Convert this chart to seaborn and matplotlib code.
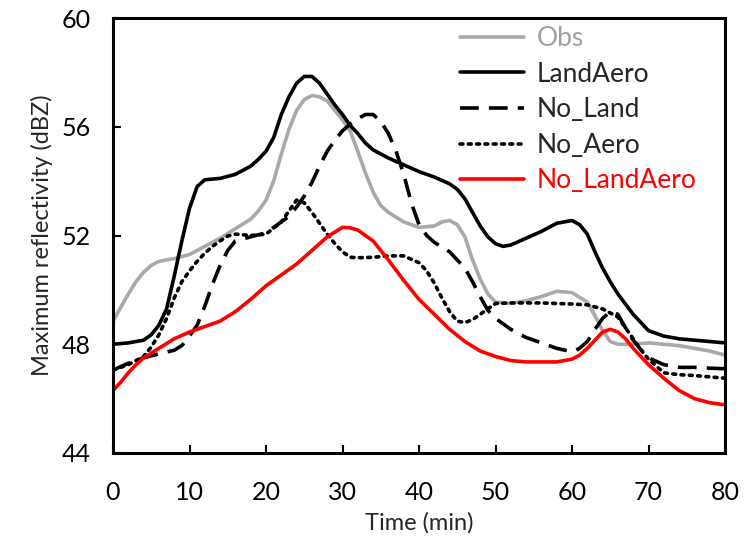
import numpy as np
import pandas as pd
import matplotlib
matplotlib.use("Agg")
import matplotlib.pyplot as plt
import seaborn as sns

# ---- data ----
t_obs = [0, 1, 2, 3, 4, 5, 6, 8, 10, 12, 14, 16, 18, 19, 20, 21, 22, 23, 24, 25, 26, 27, 28, 29,
         30, 31, 32, 33, 34, 35, 36, 38, 40, 42, 43, 44, 45, 46, 47, 48, 49, 50, 52, 54, 56, 58,
         60, 62, 63, 64, 65, 66, 68, 70, 72, 74, 76, 78, 80]
obs = [48.85, 49.35, 49.85, 50.3, 50.65, 50.9, 51.05, 51.15, 51.3, 51.6, 51.9, 52.25, 52.6, 52.9,
       53.3, 54.0, 55.0, 55.9, 56.6, 57.0, 57.15, 57.1, 56.95, 56.6, 56.25, 55.85, 55.1, 54.3,
       53.6, 53.1, 52.85, 52.5, 52.3, 52.35, 52.5, 52.55, 52.4, 51.95, 51.1, 50.4, 49.85, 49.55,
       49.5, 49.6, 49.75, 49.95, 49.9, 49.55, 49.05, 48.5, 48.1, 48.0, 48.0, 48.05, 48.0, 47.95,
       47.85, 47.75, 47.6]

t_land_aero = [0, 2, 4, 5, 6, 7, 8, 9, 10, 11, 12, 14, 16, 18, 19, 20, 21, 22, 23, 24, 25, 26, 27,
               28, 29, 30, 31, 32, 33, 34, 36, 38, 40, 42, 44, 45, 46, 47, 48, 49, 50, 51, 52, 54,
               56, 58, 60, 61, 62, 63, 64, 65, 66, 68, 70, 72, 74, 76, 78, 80]
land_aero = [48.0, 48.05, 48.15, 48.35, 48.7, 49.3, 50.5, 51.8, 53.0, 53.8, 54.05, 54.1, 54.25,
             54.55, 54.8, 55.1, 55.6, 56.45, 57.1, 57.6, 57.85, 57.85, 57.6, 57.2, 56.8, 56.45,
             56.05, 55.75, 55.4, 55.15, 54.85, 54.6, 54.35, 54.15, 53.9, 53.7, 53.35, 52.85, 52.35,
             51.95, 51.7, 51.6, 51.65, 51.9, 52.15, 52.45, 52.55, 52.4, 52.05, 51.4, 50.8, 50.3,
             49.85, 49.1, 48.5, 48.3, 48.2, 48.15, 48.1, 48.05]

t_no_land = [0, 2, 4, 6, 8, 9, 10, 11, 12, 13, 14, 15, 16, 18, 20, 22, 23, 24, 25, 26, 27, 28, 29,
             30, 31, 32, 33, 34, 35, 36, 37, 38, 39, 40, 41, 42, 44, 45, 46, 47, 48, 49, 50, 52,
             54, 56, 58, 60, 61, 62, 63, 64, 65, 66, 67, 68, 69, 70, 72, 74, 76, 78, 80]
no_land = [47.05, 47.3, 47.5, 47.65, 47.78, 47.95, 48.3, 48.7, 49.4, 50.2, 50.9, 51.45, 51.8,
           51.95, 52.1, 52.5, 52.7, 53.05, 53.45, 53.95, 54.55, 55.1, 55.5, 55.85, 56.1, 56.3,
           56.45, 56.45, 56.2, 55.75, 55.1, 54.25, 53.2, 52.4, 52.0, 51.75, 51.4, 51.1, 50.8,
           50.3, 49.75, 49.25, 48.95, 48.55, 48.25, 48.05, 47.85, 47.72, 47.85, 48.1, 48.55,
           48.95, 49.2, 49.1, 48.6, 48.15, 47.8, 47.5, 47.25, 47.15, 47.15, 47.12, 47.1]

t_no_aero = [0, 2, 4, 5, 6, 7, 8, 9, 10, 11, 12, 13, 14, 15, 16, 18, 20, 22, 23, 24, 25, 26, 27,
             28, 29, 30, 31, 32, 34, 36, 38, 40, 41, 42, 43, 44, 45, 46, 47, 48, 50, 52, 54, 56,
             58, 60, 62, 64, 66, 67, 68, 69, 70, 72, 74, 76, 78, 80]
no_aero = [47.05, 47.25, 47.55, 47.9, 48.35, 48.95, 49.7, 50.3, 50.7, 51.05, 51.35, 51.6, 51.8,
           51.98, 52.05, 52.0, 52.05, 52.5, 52.9, 53.3, 53.2, 52.85, 52.45, 52.05, 51.7, 51.4,
           51.2, 51.18, 51.2, 51.25, 51.25, 51.0, 50.7, 50.25, 49.7, 49.2, 48.85, 48.8, 48.9,
           49.1, 49.5, 49.52, 49.52, 49.52, 49.5, 49.48, 49.45, 49.3, 49.0, 48.6, 48.2, 47.8,
           47.45, 46.95, 46.88, 46.85, 46.8, 46.75]

t_no_land_aero = [0, 1, 2, 3, 4, 6, 8, 10, 12, 14, 16, 18, 20, 22, 24, 26, 28, 30, 31, 32, 34, 36,
                  38, 40, 42, 44, 46, 48, 50, 52, 54, 56, 58, 60, 61, 62, 63, 64, 65, 66, 67, 68,
                  70, 72, 74, 76, 78, 80]
no_land_aero = [46.3, 46.6, 46.95, 47.25, 47.5, 47.85, 48.2, 48.45, 48.65, 48.85, 49.2, 49.65,
                50.15, 50.55, 50.95, 51.45, 51.95, 52.3, 52.28, 52.2, 51.8, 51.1, 50.35, 49.65,
                49.1, 48.55, 48.1, 47.75, 47.55, 47.4, 47.35, 47.35, 47.35, 47.45, 47.6, 47.85,
                48.15, 48.45, 48.55, 48.45, 48.2, 47.85, 47.25, 46.75, 46.3, 46.0, 45.85, 45.77]

series_names = ["Obs", "LandAero", "No_Land", "No_Aero", "No_LandAero"]
x_ticks = [0, 10, 20, 30, 40, 50, 60, 70, 80]
y_ticks = [44, 48, 52, 56, 60]

# ---- plotting ----
sns.set_theme(style="white")
plt.rcParams['font.family'] = ['Lato', 'DejaVu Sans']

fig = plt.figure(figsize=(7.56, 5.42), dpi=100)
ax = fig.add_axes([113/756, 1-453/542, (725-113)/756, (453-18)/542])

styles = {
    "Obs": dict(color="#a9a9a9", linestyle="-"),
    "LandAero": dict(color="black", linestyle="-"),
    "No_Land": dict(color="black", linestyle=(0, (5.2, 2.8))),
    "No_Aero": dict(color="black", linestyle=(0, (0.8, 1.5)), dash_capstyle="round"),
    "No_LandAero": dict(color="#ff0000", linestyle="-"),
}
pairs = [(t_obs, obs), (t_land_aero, land_aero), (t_no_land, no_land),
         (t_no_aero, no_aero), (t_no_land_aero, no_land_aero)]
for name, (tt, vals) in zip(series_names, pairs):
    df = pd.DataFrame({"t": tt, "v": vals})
    sns.lineplot(data=df, x="t", y="v", ax=ax, label=name, lw=2.6,
                 solid_joinstyle="round", **styles[name])

ax.set_xlim(0, 80)
ax.set_ylim(44, 60)
ax.set_xticks(x_ticks)
ax.set_yticks(y_ticks)
ax.tick_params(direction="in", length=6, width=1.5, labelsize=18,
               bottom=True, left=True, colors="black")
ax.tick_params(axis="x", pad=20)
ax.tick_params(axis="y", pad=16)
for s in ax.spines.values():
    s.set_linewidth(2.2)
    s.set_color("black")
ax.set_xlabel("Time (min)", fontsize=17, labelpad=6)
ax.set_ylabel("Maximum reflectivity (dBZ)", fontsize=17, labelpad=6)

leg = ax.legend(loc="upper left", bbox_to_anchor=(0.529, 1.036), frameon=False, fontsize=19,
                handlelength=2.4, handletextpad=0.5, labelspacing=0.4)
for txt, name in zip(leg.get_texts(), series_names):
    if name == "Obs":
        txt.set_color("#a0a0a0")
    elif name == "No_LandAero":
        txt.set_color("#ff0000")

fig.savefig("out.png", dpi=100)
